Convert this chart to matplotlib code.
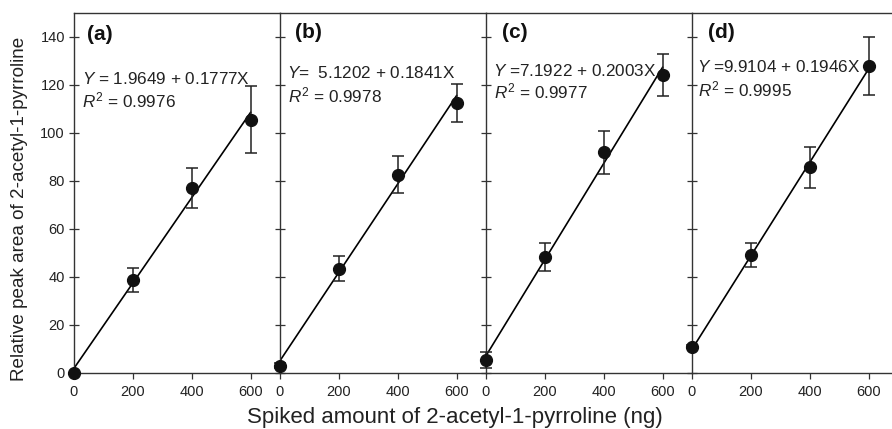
import numpy as np
import matplotlib
matplotlib.use("Agg")
import matplotlib.pyplot as plt

plt.rcParams['font.family'] = ['Liberation Sans', 'DejaVu Sans']
plt.rcParams['mathtext.fontset'] = 'custom'
plt.rcParams['mathtext.rm'] = 'Liberation Sans'
plt.rcParams['mathtext.it'] = 'Liberation Sans:italic'

# spiked amount (ng)
spiked = [0, 200, 400, 600]

# relative peak area and error bars for each panel
area_a = [0.0, 38.6, 77.2, 105.5]
err_a = [0.0, 5.0, 8.4, 14.0]
area_b = [3.0, 43.5, 82.7, 112.6]
err_b = [1.0, 5.1, 7.7, 8.0]
area_c = [5.4, 48.3, 91.9, 124.2]
err_c = [3.2, 5.9, 9.1, 8.8]
area_d = [10.9, 49.3, 85.7, 128.0]
err_d = [0.6, 5.0, 8.6, 12.0]

# regression coefficients (intercept, slope) and R^2
intercepts = [1.9649, 5.1202, 7.1922, 9.9104]
slopes = [0.1777, 0.1841, 0.2003, 0.1946]
r2 = ["0.9976", "0.9978", "0.9977", "0.9995"]
panel_labels = ["(a)", "(b)", "(c)", "(d)"]

areas = [area_a, area_b, area_c, area_d]
errs = [err_a, err_b, err_c, err_d]

# text placement (data coords) per panel
eq_pos = [(27, 122.5), (23, 124.8), (23, 125.9), (16, 127.3)]
r2_pos = [(27, 113.4), (27, 115.5), (27, 117.3), (19, 118.3)]
lab_pos = [(45, 141), (51, 141.8), (55, 141.8), (55, 141.8)]
eq_fmt = [r"$\it{Y}$ = {a} + {b}X", r"$\it{Y}$=  {a} + {b}X",
          r"$\it{Y}$ ={a} + {b}X", r"$\it{Y}$ ={a} + {b}X"]

fig = plt.figure(figsize=(8.92, 4.29), dpi=100)
left, width = 74 / 892, 206 / 892
bottom, height = 56 / 429, 360 / 429
spine_col = '#333333'
txt_col = '#222222'

for i in range(4):
    ax = fig.add_axes([left + i * width, bottom, width, height])
    ax.set_xlim(0, 700)
    ax.set_ylim(0, 150)

    xs = np.array([0, 600])
    ax.plot(xs, intercepts[i] + slopes[i] * xs, color='black', lw=1.2, zorder=2)
    ax.errorbar(spiked, areas[i], yerr=errs[i], fmt='o', color='#111111',
                ms=8.5, ecolor='#222222', elinewidth=1.1, capsize=4,
                capthick=1.1, clip_on=False, zorder=3)

    for s in ['left', 'top', 'bottom']:
        ax.spines[s].set_color(spine_col)
        ax.spines[s].set_linewidth(1.0)
    ax.spines['right'].set_visible(False)

    ax.set_xticks(spiked)
    ax.set_yticks(np.arange(0, 141, 20))
    ax.tick_params(axis='x', direction='out', length=4, width=0.9,
                   color=spine_col, labelsize=10.5, labelcolor=txt_col, pad=5)
    ax.tick_params(axis='y', direction='inout', length=7, width=0.9,
                   color=spine_col, labelsize=10.5, labelcolor=txt_col, pad=3)
    if i > 0:
        ax.set_yticklabels([])

    ax.text(lab_pos[i][0], lab_pos[i][1], panel_labels[i], fontsize=15,
            fontweight='bold', color='#111111', va='center', ha='left')
    ax.text(eq_pos[i][0], eq_pos[i][1],
            eq_fmt[i].replace('{a}', '%.4f' % intercepts[i]).replace('{b}', '%.4f' % slopes[i]),
            fontsize=12.3, color=txt_col, va='center', ha='left')
    ax.text(r2_pos[i][0], r2_pos[i][1], r"$\it{R}^2$ = " + r2[i],
            fontsize=12.3, color=txt_col, va='center', ha='left')

    if i == 0:
        ax.set_ylabel("Relative peak area of 2-acetyl-1-pyrroline",
                      fontsize=13.6, color=txt_col)
        ax.yaxis.set_label_coords(-0.225, 0.455)

fig.text(0.51, 6 / 429, "Spiked amount of 2-acetyl-1-pyrroline (ng)",
         fontsize=16, color=txt_col, ha='center', va='baseline')

fig.savefig("out.png", dpi=100)
